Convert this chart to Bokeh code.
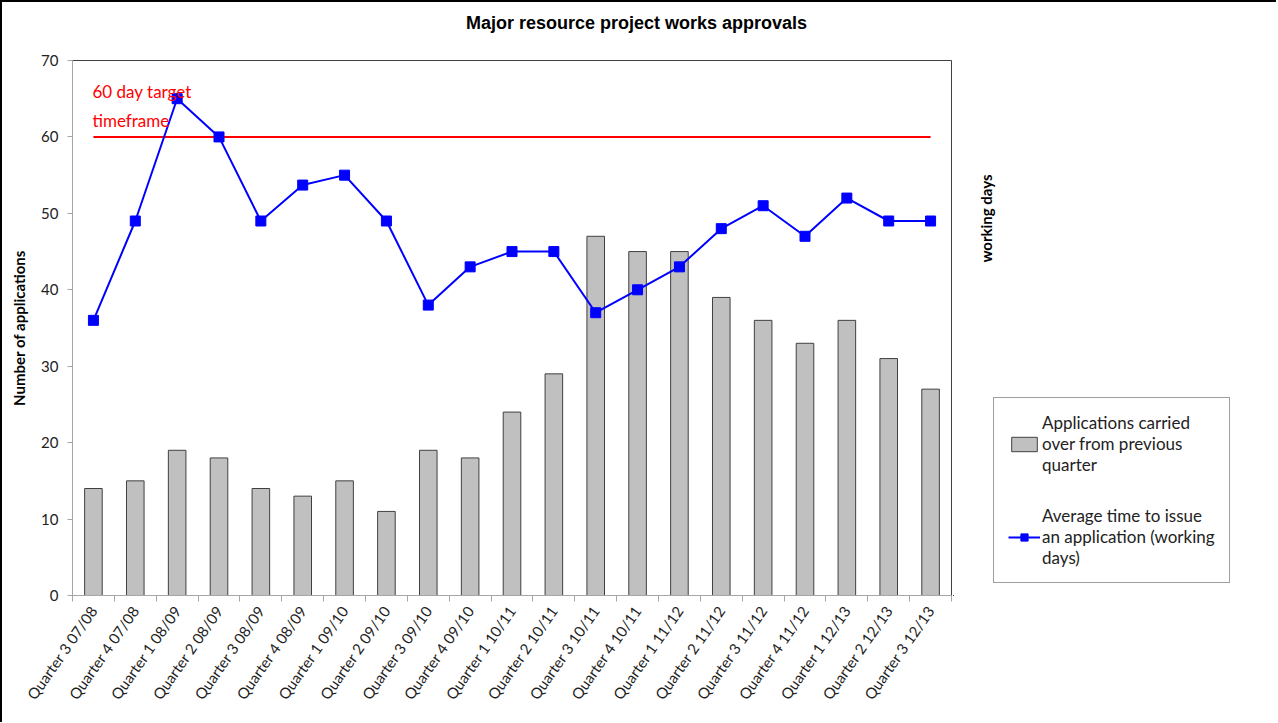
import math
from bokeh.plotting import figure
from bokeh.layouts import column, row
from bokeh.models import FixedTicker, Range1d, Label, Legend, LegendItem
from bokeh.embed import file_html
from bokeh.resources import INLINE

# ---------------- data ----------------
quarters = ["Quarter 3 07/08", "Quarter 4 07/08", "Quarter 1 08/09", "Quarter 2 08/09",
            "Quarter 3 08/09", "Quarter 4 08/09", "Quarter 1 09/10", "Quarter 2 09/10",
            "Quarter 3 09/10", "Quarter 4 09/10", "Quarter 1 10/11", "Quarter 2 10/11",
            "Quarter 3 10/11", "Quarter 4 10/11", "Quarter 1 11/12", "Quarter 2 11/12",
            "Quarter 3 11/12", "Quarter 4 11/12", "Quarter 1 12/13", "Quarter 2 12/13",
            "Quarter 3 12/13"]
carried_over = [14, 15, 19, 18, 14, 13, 15, 11, 19, 18, 24, 29, 47, 45, 45, 39, 36, 33, 36, 31, 27]
avg_days = [36, 49, 65, 60, 49, 53.7, 55, 49, 38, 43, 45, 45, 37, 40, 43, 48, 51, 47, 52, 49, 49]
target_days = 60
y_ticks = [0, 10, 20, 30, 40, 50, 60, 70]

title_text = "Major resource project works approvals"
y_label = "Number of applications"
y2_label = "working days"
bar_name = "Applications carried\nover from previous\nquarter"
line_name = "Average time to issue\nan application (working\ndays)"
target_lines = ["60 day target", "timeframe"]

# ---------------- styles ----------------
GRAY = "#a6a6a6"
BAR_FILL = "#c0c0c0"
BAR_LINE = "#404040"
BLUE = "#0000ff"
RED = "#ff0000"

n = len(quarters)
idx = list(range(n))
bounds = [i - 0.5 for i in range(n + 1)]

TOP_H = 50
MAIN_H = 670
MAIN_W = 951
SIDE_W = 323
FRAME_H = 535

# ---------------- title strip ----------------
p0 = figure(width=MAIN_W + SIDE_W, height=TOP_H, output_backend="svg", toolbar_location=None,
            x_range=Range1d(0, MAIN_W + SIDE_W), y_range=Range1d(0, TOP_H),
            x_axis_type=None, y_axis_type=None, min_border=0,
            outline_line_color=None, border_fill_color="white", background_fill_color="white")
p0.xgrid.visible = False
p0.ygrid.visible = False
p0.add_layout(Label(x=634, y=30, text=title_text, text_align="center", text_baseline="middle",
                    text_color="black", text_font="Liberation Sans", text_font_style="bold",
                    text_font_size="18px"))

# ---------------- main chart ----------------
p = figure(width=MAIN_W, height=MAIN_H, output_backend="svg", toolbar_location=None,
           x_range=Range1d(-0.5, n - 0.5), y_range=Range1d(y_ticks[0], y_ticks[-1]),
           min_border_left=70, min_border_right=2, min_border_top=8, min_border_bottom=127,
           background_fill_color="white", border_fill_color="white")
p.xgrid.visible = False
p.ygrid.visible = False
p.outline_line_color = "#404040"
p.outline_line_width = 1

xa = p.xaxis[0]
xa.ticker = FixedTicker(ticks=idx, minor_ticks=bounds)
xa.major_label_overrides = {i: q for i, q in enumerate(quarters)}
xa.major_tick_line_color = None
xa.minor_tick_line_color = GRAY
xa.minor_tick_in = 0
xa.minor_tick_out = 6
xa.axis_line_color = GRAY
xa.major_label_orientation = 0.96
xa.major_label_standoff = 6
xa.major_label_text_font = "Lato"
xa.major_label_text_font_size = "15px"
xa.major_label_text_color = "#222222"

ya = p.yaxis[0]
ya.ticker = FixedTicker(ticks=y_ticks)
ya.axis_line_color = GRAY
ya.major_tick_line_color = GRAY
ya.major_tick_in = 0
ya.major_tick_out = 5
ya.minor_tick_line_color = None
ya.major_label_standoff = 9
ya.major_label_text_font = "Lato"
ya.major_label_text_font_size = "15px"
ya.major_label_text_color = "#222222"
ya.axis_label = y_label
ya.axis_label_text_font = "Lato"
ya.axis_label_text_font_style = "bold"
ya.axis_label_text_font_size = "15px"
ya.axis_label_text_color = "black"
ya.axis_label_standoff = 10

p.vbar(x=idx, top=carried_over, width=0.42, bottom=0,
       fill_color=BAR_FILL, line_color=BAR_LINE, line_width=1)
p.line(x=[idx[0], idx[-1]], y=[target_days, target_days], line_color=RED, line_width=2)
p.line(x=idx, y=avg_days, line_color=BLUE, line_width=2)
p.scatter(x=idx, y=avg_days, marker="square", size=10, fill_color=BLUE, line_color=BLUE)

p.add_layout(Label(x=20, y=504, x_units="screen", y_units="screen", text=target_lines[0],
                   text_align="left", text_baseline="middle", text_color=RED,
                   text_font="Lato", text_font_size="17px"))
p.add_layout(Label(x=20, y=475, x_units="screen", y_units="screen", text=target_lines[1],
                   text_align="left", text_baseline="middle", text_color=RED,
                   text_font="Lato", text_font_size="17px"))

# ---------------- side panel: secondary axis title + legend ----------------
# (its frame is aligned with the main chart's frame by the row layout)
p2 = figure(width=SIDE_W, height=MAIN_H, output_backend="svg", toolbar_location=None,
            x_range=Range1d(0, SIDE_W), y_range=Range1d(0, FRAME_H),
            x_axis_type=None, y_axis_type=None, min_border=0,
            outline_line_color=None, border_fill_color="white", background_fill_color="white")
p2.xgrid.visible = False
p2.ygrid.visible = False
p2.extra_x_ranges = {"offscreen": Range1d(1000, 2000)}
p2.extra_y_ranges = {"offscreen": Range1d(1000, 2000)}

p2.add_layout(Label(x=32, y=377, text=y2_label, angle=math.pi / 2,
                    text_align="center", text_baseline="middle", text_color="black",
                    text_font="Lato", text_font_style="bold", text_font_size="15px"))

# legend swatches: same series and styles, mapped onto ranges that keep them out of view
kb = p2.vbar(x=idx, top=carried_over, width=0.42, bottom=0,
             x_range_name="offscreen", y_range_name="offscreen",
             fill_color=BAR_FILL, line_color=BAR_LINE, line_width=1)
kl = p2.line(x=idx, y=avg_days, x_range_name="offscreen", y_range_name="offscreen",
             line_color=BLUE, line_width=2)
ks = p2.scatter(x=idx, y=avg_days, x_range_name="offscreen", y_range_name="offscreen",
                marker="square", size=10, fill_color=BLUE, line_color=BLUE)

legend = Legend(items=[LegendItem(label=bar_name, renderers=[kb]),
                       LegendItem(label=line_name, renderers=[kl, ks])],
                location=(40, 12), orientation="vertical",
                border_line_color="#404040", border_line_width=1,
                background_fill_color="white", background_fill_alpha=1,
                padding=14, spacing=30, margin=0,
                glyph_width=32, glyph_height=18, label_standoff=2,
                label_text_font="Lato", label_text_font_size="17px",
                label_text_color="#222222")
p2.add_layout(legend, "center")

layout = column(p0, row(p, p2, spacing=0), spacing=0,
                styles={"border-top": "2px solid black", "border-left": "2px solid black"})

open("out.html", "w").write(file_html(layout, INLINE))
